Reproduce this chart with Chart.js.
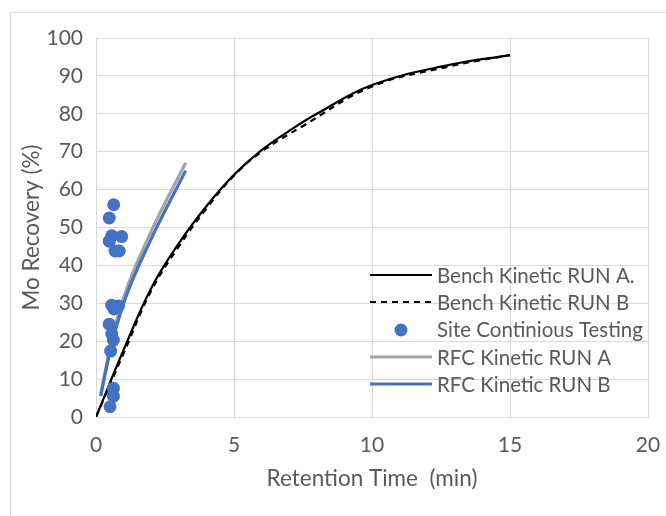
<!DOCTYPE html>
<html>
<head>
<meta charset="utf-8">
<script src="https://cdn.jsdelivr.net/npm/chart.js@4.4.1/dist/chart.umd.min.js"></script>
<style>
  html, body { margin: 0; padding: 0; background: #fff; }
  #wrap { width: 666px; height: 516px; position: relative; }
</style>
</head>
<body>
<div id="wrap"><canvas id="chart" width="666" height="516"></canvas></div>
<script>
// --- Datos ---
const benchA_t = [0, 1, 2, 3, 4, 5, 6, 7, 8, 10, 12.8, 15];
const benchA_y = [0, 17.7, 34.0, 45.8, 55.6, 63.9, 70.4, 75.5, 80.0, 87.6, 92.9, 95.5];

const benchB_t = [0, 1, 2, 3, 4, 5, 6, 7.5, 10, 12.8, 15];
const benchB_y = [0, 16.8, 33.3, 45.0, 55.0, 63.7, 70.0, 76.8, 87.2, 92.5, 95.5];

const site_t = [0.64, 0.48, 0.57, 0.93, 0.48, 0.69, 0.84, 0.57, 0.81, 0.65, 0.48, 0.57, 0.63, 0.53, 0.63, 0.63, 0.51];
const site_y = [56.0, 52.5, 47.8, 47.6, 46.4, 43.8, 43.8, 29.5, 29.3, 28.5, 24.5, 21.9, 20.3, 17.4, 7.6, 5.5, 2.7];

const rfcA_t = [0.17, 0.5, 1, 2, 3.25];
const rfcA_y = [6.0, 18.0, 31.5, 49.0, 67.1];

const rfcB_t = [0.17, 0.5, 1, 2, 3.25];
const rfcB_y = [5.5, 17.0, 30.0, 47.0, 65.0];

const xTicks = [0, 5, 10, 15, 20];
const yTicks = [0, 10, 20, 30, 40, 50, 60, 70, 80, 90, 100];

const pts = (xs, ys) => xs.map((x, i) => ({ x, y: ys[i] }));

const FONT = 'Lato, "Open Sans", sans-serif';
const TXT = '#595959';
const GRID = '#d9d9d9';

// --- Leyenda dentro del área del gráfico ---
const insideLegend = {
  id: 'insideLegend',
  afterDraw(c) {
    const ctx = c.ctx;
    const x0 = 370, x1 = 432, tx = 437;
    const rows = [275, 302, 329, 357, 384];
    ctx.save();
    ctx.font = '20.5px ' + FONT;
    ctx.textBaseline = 'middle';
    c.data.datasets.forEach((ds, i) => {
      const y = rows[i];
      if (ds.showLine === false) {
        ctx.fillStyle = ds.backgroundColor;
        ctx.beginPath();
        ctx.arc((x0 + x1) / 2, y + 1, 6.5, 0, Math.PI * 2);
        ctx.fill();
      } else {
        ctx.strokeStyle = ds.borderColor;
        ctx.lineWidth = ds.borderWidth;
        ctx.setLineDash(ds.borderDash || []);
        ctx.beginPath();
        ctx.moveTo(x0, y);
        ctx.lineTo(x1, y);
        ctx.stroke();
        ctx.setLineDash([]);
      }
      ctx.fillStyle = TXT;
      ctx.fillText(ds.label, tx, y + 1);
    });
    ctx.restore();
  }
};

// --- Borde exterior ---
const outerBorder = {
  id: 'outerBorder',
  beforeDraw(c) {
    const ctx = c.ctx;
    ctx.save();
    ctx.strokeStyle = GRID;
    ctx.lineWidth = 1;
    ctx.beginPath();
    ctx.moveTo(10.5, 516);
    ctx.lineTo(10.5, 12.5);
    ctx.lineTo(666, 12.5);
    ctx.stroke();
    ctx.restore();
  }
};

new Chart(document.getElementById('chart'), {
  type: 'scatter',
  data: {
    datasets: [
      {
        label: 'Bench Kinetic RUN A.',
        data: pts(benchA_t, benchA_y),
        showLine: true, borderColor: '#000', borderWidth: 2.2,
        pointRadius: 0, tension: 0.4, order: 3
      },
      {
        label: 'Bench Kinetic RUN B',
        data: pts(benchB_t, benchB_y),
        showLine: true, borderColor: '#000', borderWidth: 2.2, borderDash: [6, 5],
        pointRadius: 0, tension: 0.4, order: 4
      },
      {
        label: 'Site Continious Testing',
        data: pts(site_t, site_y),
        showLine: false, backgroundColor: '#4472c4', borderColor: '#4472c4',
        pointRadius: 6.5, borderWidth: 0, order: 0
      },
      {
        label: 'RFC Kinetic RUN A',
        data: pts(rfcA_t, rfcA_y),
        showLine: true, borderColor: '#a5a5a5', borderWidth: 3.2,
        pointRadius: 0, cubicInterpolationMode: 'monotone', order: 2
      },
      {
        label: 'RFC Kinetic RUN B',
        data: pts(rfcB_t, rfcB_y),
        showLine: true, borderColor: '#4472c4', borderWidth: 3.2,
        pointRadius: 0, cubicInterpolationMode: 'monotone', order: 1
      }
    ]
  },
  options: {
    responsive: false,
    animation: false,
    layout: { padding: { left: 10, top: 38, right: 18, bottom: 11 } },
    scales: {
      x: {
        type: 'linear', min: 0, max: 20,
        afterBuildTicks: s => { s.ticks = xTicks.map(v => ({ value: v })); },
        afterFit: s => { s.height = 88; s.paddingLeft = 0; s.paddingRight = 0; },
        grid: { color: GRID, drawTicks: false },
        border: { color: GRID },
        ticks: { color: TXT, font: { family: FONT, size: 21 }, padding: 16 },
        title: {
          display: true, text: 'Retention Time  (min)', color: TXT,
          font: { family: FONT, size: 22.5 }, padding: { top: 0, bottom: 13 }
        }
      },
      y: {
        type: 'linear', min: 0, max: 100,
        afterBuildTicks: s => { s.ticks = yTicks.map(v => ({ value: v })); },
        afterFit: s => { s.width = 86; s.paddingTop = 0; s.paddingBottom = 0; },
        grid: { color: GRID, drawTicks: false },
        border: { color: GRID },
        ticks: { color: TXT, font: { family: FONT, size: 21 }, padding: 13 },
        title: {
          display: true, text: 'Mo Recovery (%)', color: TXT,
          font: { family: FONT, size: 22.5 }, padding: { top: 8, bottom: 0 }
        }
      }
    },
    plugins: {
      legend: { display: false },
      tooltip: { enabled: false }
    }
  },
  plugins: [outerBorder, insideLegend]
});
</script>
</body>
</html>
